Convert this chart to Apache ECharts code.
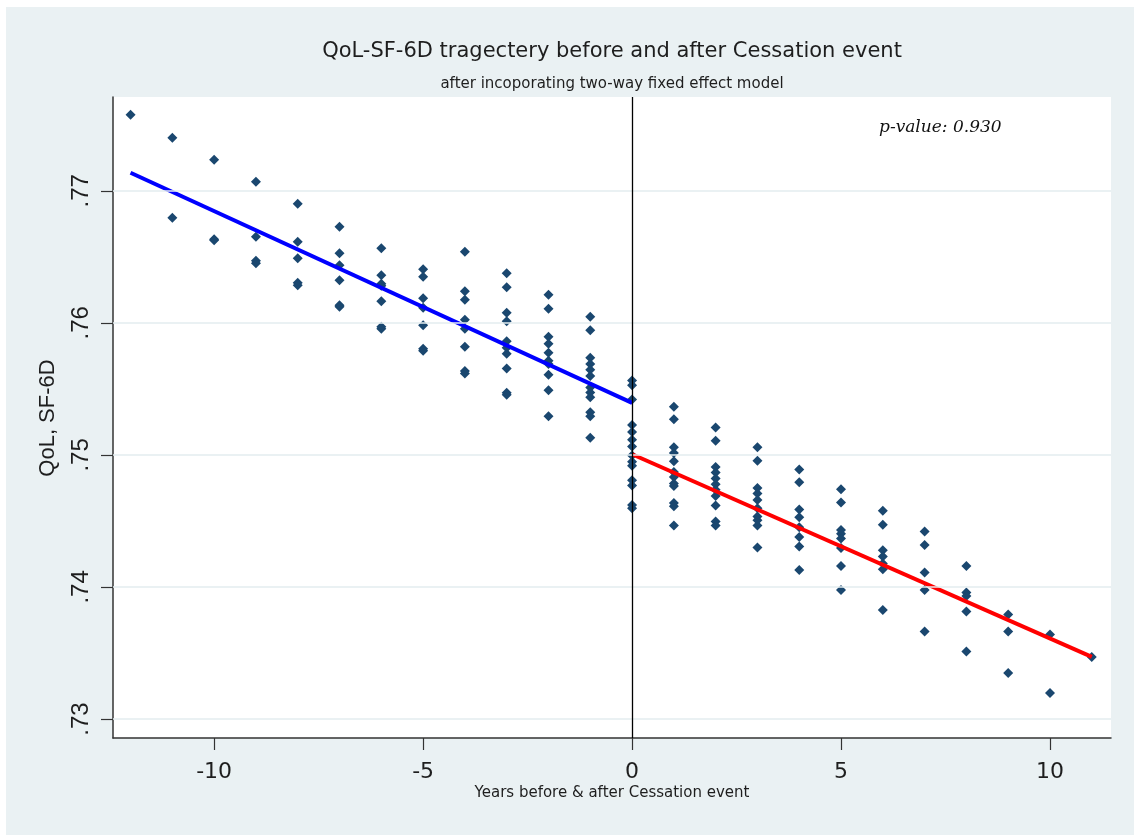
<!DOCTYPE html>
<html>
<head>
<meta charset="utf-8">
<script src="https://cdn.jsdelivr.net/npm/echarts@6/dist/echarts.min.js"></script>
<style>
html,body{margin:0;padding:0;background:#ffffff;}
#chart{width:1134px;height:835px;}
</style>
</head>
<body>
<div id="chart"></div>
<script>
// ---- data ----
const titleText = 'QoL-SF-6D tragectery before and after Cessation event';
const subtitleText = 'after incoporating two-way fixed effect model';
const xAxisTitle = 'Years before & after Cessation event';
const yAxisTitle = 'QoL, SF-6D';
const pValueText = 'p-value: 0.930';

const xTicks = [-10, -5, 0, 5, 10];
const yTicks = [0.73, 0.74, 0.75, 0.76, 0.77];

const yM12 = [0.77576];
const yM11 = [0.77402, 0.76795];
const yM10 = [0.77235, 0.76633, 0.76625];
const yM9 = [0.77068, 0.76652, 0.7647, 0.76451];
const yM8 = [0.76902, 0.76614, 0.76489, 0.76303, 0.76284];
const yM7 = [0.76727, 0.76527, 0.76436, 0.76322, 0.76133, 0.76121];
const yM6 = [0.76564, 0.7636, 0.76295, 0.7628, 0.76163, 0.7597, 0.75955];
const yM5 = [0.76405, 0.76348, 0.76186, 0.76114, 0.75981, 0.75803, 0.75788];
const yM4 = [0.76538, 0.76239, 0.76174, 0.76023, 0.75955, 0.75818, 0.75636, 0.75617];
const yM3 = [0.76375, 0.76269, 0.76076, 0.76011, 0.7586, 0.75811, 0.75765, 0.75655, 0.7547, 0.75455];
const yM2 = [0.76212, 0.76106, 0.75894, 0.75841, 0.75773, 0.75712, 0.75689, 0.75606, 0.75489, 0.75292];
const yM1 = [0.76045, 0.75943, 0.75735, 0.75689, 0.75644, 0.75598, 0.75511, 0.75473, 0.75436, 0.75322, 0.75292, 0.75129];
const y0 = [0.75564, 0.75527, 0.7542, 0.75227, 0.75174, 0.75114, 0.75064, 0.74996, 0.74947, 0.74917, 0.74807, 0.74769, 0.74621, 0.74595];
const yP1 = [0.75364, 0.75269, 0.75057, 0.75015, 0.74951, 0.74871, 0.74833, 0.74784, 0.74765, 0.74636, 0.7461, 0.74466];
const yP2 = [0.75208, 0.75106, 0.74909, 0.74867, 0.74822, 0.74777, 0.74735, 0.74689, 0.74617, 0.74496, 0.74466];
const yP3 = [0.75057, 0.74955, 0.7475, 0.74708, 0.74659, 0.74595, 0.74534, 0.74504, 0.74466, 0.74299];
const yP4 = [0.7489, 0.74792, 0.74587, 0.74527, 0.74451, 0.74379, 0.74307, 0.74129];
const yP5 = [0.74739, 0.7464, 0.74432, 0.74402, 0.74367, 0.74295, 0.74159, 0.73977];
const yP6 = [0.74576, 0.7447, 0.74277, 0.74231, 0.74178, 0.74133, 0.73826];
const yP7 = [0.7442, 0.74318, 0.7411, 0.73977, 0.73663];
const yP8 = [0.74159, 0.73958, 0.73932, 0.73814, 0.73511];
const yP9 = [0.73792, 0.73663, 0.73348];
const yP10 = [0.7364, 0.73197];
const yP11 = [0.7347];

const years = [-12, -11, -10, -9, -8, -7, -6, -5, -4, -3, -2, -1, 0, 1, 2, 3, 4, 5, 6, 7, 8, 9, 10, 11];
const valuesByYear = [yM12, yM11, yM10, yM9, yM8, yM7, yM6, yM5, yM4, yM3, yM2, yM1,
                      y0, yP1, yP2, yP3, yP4, yP5, yP6, yP7, yP8, yP9, yP10, yP11];

const fitBeforeX = [-12, 0];
const fitBeforeY = [0.77136, 0.75394];
const fitAfterX = [0, 11];
const fitAfterY = [0.75005, 0.7347];

const xRange = [-12.42, 11.46];
const yRange = [0.72856, 0.7771];

// ---- build ----
const scatterData = [];
years.forEach((yr, i) => valuesByYear[i].forEach(v => scatterData.push([yr, v])));
const fitBefore = fitBeforeX.map((x, i) => [x, fitBeforeY[i]]);
const fitAfter = fitAfterX.map((x, i) => [x, fitAfterY[i]]);

const chart = echarts.init(document.getElementById('chart'), null, {renderer: 'canvas'});
const sansFam = '"Liberation Sans", Arial, sans-serif';
const wideFam = '"DejaVu Sans", Verdana, sans-serif';
const textCol = '#1e1e1e';

chart.setOption({
  backgroundColor: '#ffffff',
  animation: false,
  graphic: [
    {type: 'rect', z: -10, shape: {x: 6, y: 7, width: 1128, height: 828}, style: {fill: '#eaf1f3'}},
    {type: 'rect', z: -9, shape: {x: 113, y: 97, width: 998, height: 641}, style: {fill: '#ffffff'}},
    {type: 'text', x: 612, y: 52, z: 50,
     style: {text: titleText, align: 'center', verticalAlign: 'middle', textAlign: 'center', textVerticalAlign: 'middle',
             font: '21px ' + wideFam, fill: textCol}},
    {type: 'text', x: 612, y: 84, z: 50,
     style: {text: subtitleText, align: 'center', verticalAlign: 'middle', textAlign: 'center', textVerticalAlign: 'middle',
             font: '15px ' + wideFam, fill: textCol}},
    {type: 'text', x: 612, y: 793, z: 50,
     style: {text: xAxisTitle, align: 'center', verticalAlign: 'middle', textAlign: 'center', textVerticalAlign: 'middle',
             font: '15px ' + wideFam, fill: textCol}},
    {type: 'text', x: 48, y: 418, rotation: Math.PI / 2, z: 50,
     style: {text: yAxisTitle, align: 'center', verticalAlign: 'middle', textAlign: 'center', textVerticalAlign: 'middle',
             font: '22px ' + sansFam, fill: textCol}},
    {type: 'text', x: 879, y: 128, z: 50,
     style: {text: pValueText, align: 'left', verticalAlign: 'middle', textAlign: 'left', textVerticalAlign: 'middle',
             font: 'italic 17px "DejaVu Serif", "Liberation Serif", serif', fill: '#111111'}}
  ],
  grid: {left: 113, top: 97, width: 998, height: 641, containLabel: false},
  xAxis: {
    type: 'value', min: xRange[0], max: xRange[1],
    axisLine: {show: true, onZero: false, lineStyle: {color: '#333333', width: 1.5}},
    axisTick: {show: true, length: 12, customValues: xTicks, lineStyle: {color: '#333333', width: 1.2}},
    axisLabel: {customValues: xTicks, fontFamily: wideFam, fontSize: 22, color: textCol, margin: 23},
    splitLine: {show: false}
  },
  yAxis: {
    type: 'value', min: yRange[0], max: yRange[1],
    axisLine: {show: true, onZero: false, lineStyle: {color: '#333333', width: 1.5}},
    axisTick: {show: true, length: 12, customValues: yTicks, lineStyle: {color: '#333333', width: 1.2}},
    axisLabel: {customValues: yTicks, rotate: 90, fontFamily: sansFam, fontSize: 24, color: textCol, margin: 20,
      formatter: v => v.toFixed(2).replace(/^0/, '')},
    splitLine: {show: false}
  },
  series: [
    {
      type: 'line', data: [], silent: true, z: 1,
      markLine: {
        silent: true, symbol: ['none', 'none'], label: {show: false}, animation: false,
        data: yTicks.map(t => ({yAxis: t, lineStyle: {color: '#e3ecef', width: 1.5, type: 'solid'}}))
          .concat([{xAxis: 0, lineStyle: {color: '#000000', width: 1.3, type: 'solid'}}])
      }
    },
    {
      type: 'scatter', data: scatterData, symbol: 'diamond', symbolSize: [10, 10], z: 3,
      itemStyle: {color: '#1a476f', opacity: 1}
    },
    {
      type: 'line', data: fitBefore, showSymbol: false, z: 4,
      lineStyle: {color: '#0000ff', width: 4}
    },
    {
      type: 'line', data: fitAfter, showSymbol: false, z: 4,
      lineStyle: {color: '#ff0000', width: 4}
    }
  ]
});
</script>
</body>
</html>
